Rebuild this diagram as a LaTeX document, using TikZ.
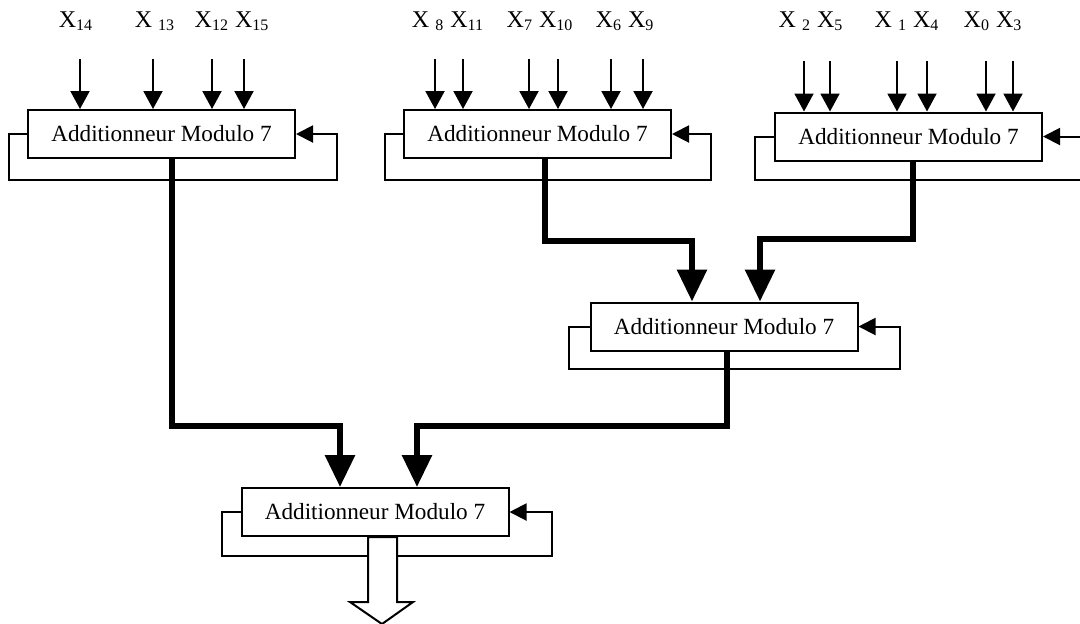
\documentclass[tikz,border=0pt]{standalone}
\usepackage{fontspec}
\setmainfont{Liberation Serif}
\usetikzlibrary{arrows.meta,calc}

\begin{document}
\begin{tikzpicture}[
  x=0.5pt, y=-0.5pt,
  adder/.style={draw, line width=1pt, fill=white, minimum width=133.5pt, minimum height=24pt, inner sep=0pt, font=\fontsize{11.6}{14}\selectfont},
  inname/.style={anchor=base, font=\fontsize{12}{14}\selectfont},
  input/.style={draw, line width=1pt, -{Triangle[length=9pt, width=9.5pt]}},
  feedback/.style={draw, line width=1pt, -{Triangle[length=8.5pt, width=8.5pt]}},
  bus/.style={draw, line width=3pt, -{Triangle[length=16pt, width=14.5pt]}},
  result/.style={draw, line width=1pt, fill=white}
]
\useasboundingbox (0,0) rectangle (1080,623);

% Adders
\node[adder] (b1) at (161.5,134) {Additionneur Modulo 7};
\node[adder] (b2) at (537.5,134) {Additionneur Modulo 7};
\node[adder] (b3) at (908.5,136.5) {Additionneur Modulo 7};
\node[adder] (b4) at (724,326.5) {Additionneur Modulo 7};
\node[adder] (b5) at (375,512) {Additionneur Modulo 7};

% Input names
\node[inname] (l14) at (76,27) {X\textsubscript{14}};
\node[inname] (l13) at (155,27) {X \textsubscript{13}};
\node[inname] (l12) at (232,27) {X\textsubscript{12} X\textsubscript{15}};
\node[inname] (l8) at (448,27) {X \textsubscript{8} X\textsubscript{11}};
\node[inname] (l7) at (540,27) {X\textsubscript{7} X\textsubscript{10}};
\node[inname] (l6) at (625,27) {X\textsubscript{6} X\textsubscript{9}};
\node[inname] (l2) at (811,27) {X \textsubscript{2} X\textsubscript{5}};
\node[inname] (l1) at (907,27) {X \textsubscript{1} X\textsubscript{4}};
\node[inname] (l0) at (993,27) {X\textsubscript{0} X\textsubscript{3}};

% Inputs
\foreach \x in {80,153,212,244}
  \draw[input] (\x,59) -- (\x,59 |- b1.north);
\foreach \x in {435,463,529,558,611,643}
  \draw[input] (\x,59) -- (\x,59 |- b2.north);
\foreach \x in {804,830,897,927,986,1013}
  \draw[input] (\x,61) -- (\x,61 |- b3.north);

% Feedback loops
\draw[feedback] (b1.west) -- ++(-18,0) -- ++(0,46) -- ++(328,0) -- ++(0,-46) -- (b1.east);
\draw[feedback] (b2.west) -- ++(-18,0) -- ++(0,46) -- ++(326,0) -- ++(0,-46) -- (b2.east);
\draw[feedback] (b3.west) -- ++(-19,0) -- ++(0,43) -- ++(334,0) -- ++(0,-43) -- (b3.east);
\draw[feedback] (b4.west) -- ++(-21,0) -- ++(0,42.5) -- ++(331,0) -- ++(0,-42.5) -- (b4.east);
\draw[feedback] (b5.west) -- ++(-19,0) -- ++(0,44) -- ++(330,0) -- ++(0,-44) -- (b5.east);

% Partial sums
\draw[bus] ($(b2.south)+(7.5,0)$) -- ++(0,82) -| ($(b4.north)+(-32,0)$);
\draw[bus] ($(b3.south)+(4.5,0)$) -- ++(0,77) -| ($(b4.north)+(36,0)$);
\draw[bus] ($(b1.south)+(10.5,0)$) -- ++(0,267) -| ($(b5.north)+(-35,0)$);
\draw[bus] ($(b4.south)+(3,0)$) -- ++(0,74) -| ($(b5.north)+(42,0)$);

% Result
\draw[result] ($(b5.south)+(-7,0)$) -- ++(0,65) -- ++(-18,0) -- ++(32,22) -- ++(31,-22) -- ++(-16,0) -- ++(0,-65) -- cycle;

\end{tikzpicture}
\end{document}
